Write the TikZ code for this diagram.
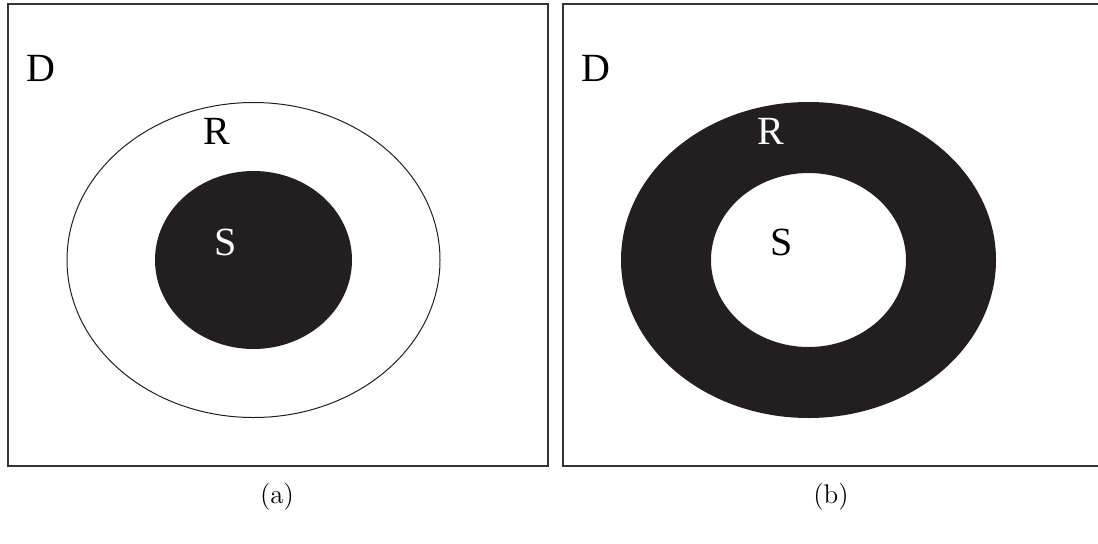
\documentclass[tikz,border=0pt]{standalone}
\usepackage{fontspec}
\setmainfont{Liberation Serif}
\newfontfamily\capfont{Latin Modern Roman}
\definecolor{inkdark}{HTML}{231F20}
\definecolor{framegray}{HTML}{333333}
\begin{document}
\begin{tikzpicture}[x=0.5pt,y=-0.5pt,
  setlabel/.style={font={\rmfamily\fontsize{20}{24}\selectfont}},
  caption/.style={font={\capfont\fontsize{13.5}{16}\selectfont}}]
  \clip (0,0) rectangle (1098,543);

  % (a) S inside R
  \draw[framegray, line width=0.7pt] (8,4) rectangle (548,466);
  \draw[inkdark, line width=0.5pt] (253.5,260) ellipse [x radius=186.5, y radius=157.5];
  \fill[inkdark] (253.5,260) ellipse [x radius=98.5, y radius=89];
  \node[setlabel] (dA) at (41,68) {D};
  \node[setlabel] (rA) at (217,131) {R};
  \node[setlabel, text=white] (sA) at (226,242) {S};
  \node[caption] (capA) at (277,497) {(a)};

  % (b) R without S
  \draw[framegray, line width=0.7pt] (563,4) rectangle (1110,466);
  \fill[inkdark, even odd rule] (808.5,260) ellipse [x radius=187.5, y radius=158]
    (808.5,260) ellipse [x radius=97.5, y radius=87];
  \node[setlabel] (dB) at (596,68) {D};
  \node[setlabel, text=white] (rB) at (771,131) {R};
  \node[setlabel] (sB) at (782,242) {S};
  \node[caption] (capB) at (831,497) {(b)};
\end{tikzpicture}
\end{document}
